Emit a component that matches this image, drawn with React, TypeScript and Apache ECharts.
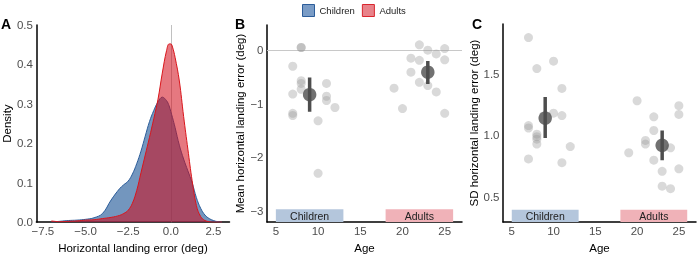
import React, { useEffect, useRef } from "react";
import * as echarts from "echarts";

// ---------- Panel A: density ----------
const densityX = [-7.0, -6.5, -6.0, -5.5, -5.0, -4.5, -4.0, -3.5, -3.0, -2.75, -2.5, -2.25, -2.0, -1.75, -1.5, -1.25, -1.0, -0.75, -0.5, -0.25, -0.1, 0.0, 0.1, 0.25, 0.5, 0.75, 1.0, 1.25, 1.5, 1.75, 2.0, 2.25, 2.5, 2.75, 3.0];
const childrenDensity = [0.0, 0.002, 0.004, 0.005, 0.007, 0.011, 0.022, 0.056, 0.085, 0.095, 0.104, 0.122, 0.148, 0.18, 0.218, 0.255, 0.283, 0.305, 0.317, 0.308, 0.295, 0.28, 0.265, 0.24, 0.195, 0.16, 0.13, 0.1, 0.062, 0.035, 0.018, 0.009, 0.004, 0.001, 0.0];
const adultsDensity = [0.003, 0.001, 0.002, 0.003, 0.005, 0.006, 0.009, 0.012, 0.017, 0.022, 0.03, 0.048, 0.08, 0.125, 0.17, 0.215, 0.262, 0.312, 0.378, 0.435, 0.452, 0.452, 0.444, 0.418, 0.358, 0.268, 0.185, 0.105, 0.042, 0.014, 0.004, 0.001, 0.0, 0.0, 0.0];
const densityXTicks = [-7.5, -5.0, -2.5, 0.0, 2.5];
const densityYTicks = [0.0, 0.1, 0.2, 0.3, 0.4, 0.5];

// ---------- Panel B: mean error ----------
const bChildAges = [8, 8, 7, 8, 8, 8, 7, 7, 7, 11, 11, 11, 12, 10, 10];
const bChildValues = [0.05, 0.05, -0.3, -0.57, -0.62, -0.73, -0.82, -1.18, -1.22, -0.62, -0.86, -0.94, -1.07, -1.32, -2.3];
const bAdultAges = [22, 23, 25, 24, 21, 22, 25, 21, 22, 23, 24, 19, 20, 25];
const bAdultValues = [0.1, 0.0, 0.03, -0.07, -0.15, -0.19, -0.18, -0.41, -0.6, -0.66, -0.78, -0.71, -1.09, -1.18];
const bMeanAges = [9, 23];
const bMeanValues = [-0.83, -0.41];
const bMeanLow = [-1.15, -0.63];
const bMeanHigh = [-0.51, -0.2];
const bYTicks = [-3, -2, -1, 0];

// ---------- Panel C: SD error ----------
const cChildAges = [7, 8, 10, 11, 10, 11, 7, 7, 8, 8, 8, 8, 7, 11, 12];
const cChildValues = [1.79, 1.54, 1.6, 1.38, 1.18, 1.16, 1.08, 1.06, 1.01, 0.99, 0.97, 0.93, 0.81, 0.78, 0.91];
const cAdultAges = [20, 25, 25, 22, 22, 21, 21, 19, 24, 22, 23, 25, 23, 24];
const cAdultValues = [1.28, 1.24, 1.17, 1.15, 1.04, 0.96, 0.93, 0.86, 0.9, 0.8, 0.71, 0.73, 0.59, 0.57];
const cMeanAges = [9, 23];
const cMeanValues = [1.14, 0.92];
const cMeanLow = [0.98, 0.8];
const cMeanHigh = [1.31, 1.04];
const cYTicks = [0.5, 1.0, 1.5];

const ageTicks = [5, 10, 15, 20, 25];
const groupNames = ["Children", "Adults"];
const groupAgeBands = [
  [5, 13],
  [18, 26],
];

const FONT = "Liberation Sans";
const TICK_COLOR = "#4d4d4d";
const POINT_COLOR = "rgba(150,150,150,0.45)";
const MEAN_COLOR = "#4d4d4d";
const BAND_COLORS = ["#b4c6dc", "#f0b2b8"];

const fmt = (d: number) => (v: number) =>
  (v < 0 ? "\u2212" : "") + Math.abs(v).toFixed(d);

function axisBase(extra: any) {
  return {
    type: "value",
    axisLine: { show: true, onZero: false, lineStyle: { color: "#000", width: 1.5 } },
    axisTick: { show: false },
    splitLine: { show: false },
    nameLocation: "middle",
    nameTextStyle: { color: "#000", fontSize: 11.5, fontFamily: FONT },
    ...extra,
    axisLabel: {
      color: TICK_COLOR,
      fontSize: 11.5,
      fontFamily: FONT,
      ...(extra.axisLabel || {}),
    },
  };
}

function pointsPanel(
  idx: number,
  childAges: number[],
  childVals: number[],
  adultAges: number[],
  adultVals: number[],
  meanAges: number[],
  meanVals: number[],
  lo: number[],
  hi: number[],
  yMin: number,
  bandTop: number,
  zeroLine: boolean
) {
  const zip = (a: number[], b: number[]) => a.map((x, i) => [x, b[i]]);
  const series: any[] = [
    {
      type: "scatter",
      xAxisIndex: idx,
      yAxisIndex: idx,
      data: zip(childAges, childVals),
      symbolSize: 9,
      itemStyle: { color: POINT_COLOR },
      silent: true,
      z: 2,
      markArea: {
        silent: true,
        z: 1,
        label: { show: true, position: "inside", color: "#222", fontSize: 10.5, fontFamily: FONT },
        data: groupNames.map((n, i) => [
          { name: n, xAxis: groupAgeBands[i][0], yAxis: yMin, itemStyle: { color: BAND_COLORS[i], opacity: 1 } },
          { xAxis: groupAgeBands[i][1], yAxis: bandTop },
        ]),
      },
      markLine: zeroLine
        ? {
            silent: true,
            z: 1,
            symbol: ["none", "none"],
            label: { show: false },
            lineStyle: { color: "#c8c8c8", width: 1, type: "solid" },
            data: [{ yAxis: 0 }],
          }
        : undefined,
    },
    {
      type: "scatter",
      xAxisIndex: idx,
      yAxisIndex: idx,
      data: zip(adultAges, adultVals),
      symbolSize: 9,
      itemStyle: { color: POINT_COLOR },
      silent: true,
      z: 2,
    },
  ];
  meanAges.forEach((a, i) => {
    series.push({
      type: "line",
      xAxisIndex: idx,
      yAxisIndex: idx,
      data: [
        [a, lo[i]],
        [a, hi[i]],
      ],
      symbol: "none",
      lineStyle: { color: MEAN_COLOR, width: 3.5 },
      silent: true,
      z: 3,
    });
  });
  series.push({
    type: "scatter",
    xAxisIndex: idx,
    yAxisIndex: idx,
    data: zip(meanAges, meanVals),
    symbolSize: 13.5,
    itemStyle: { color: MEAN_COLOR },
    silent: true,
    z: 4,
  });
  return series;
}

export default function App() {
  const ref = useRef<HTMLDivElement>(null);
  useEffect(() => {
    if (!ref.current) return;
    const chart = echarts.init(ref.current, undefined, { renderer: "svg" });
    const bYMin = -3.21;
    const cYMin = 0.3;
    const option: any = {
      animation: false,
      textStyle: { fontFamily: FONT },
      legend: {
        show: true,
        left: 302,
        top: 4,
        padding: 0,
        icon: "rect",
        itemWidth: 12,
        itemHeight: 12,
        itemGap: 7,
        selectedMode: false,
        textStyle: { fontSize: 9.5, color: "#222", fontFamily: FONT },
        data: [
          { name: "Children", itemStyle: { color: "#7a9cc6", borderColor: "#2c5d9a", borderWidth: 1 } },
          { name: "Adults", itemStyle: { color: "#e8838a", borderColor: "#d9262e", borderWidth: 1 } },
        ],
      },
      grid: [
        { left: 36, top: 25, width: 193.5, height: 202.5 },
        { left: 267, top: 25, width: 195, height: 202.5 },
        { left: 503, top: 24, width: 193, height: 203.5 },
      ],
      xAxis: [
        axisBase({
          gridIndex: 0,
          min: -7.88,
          max: 3.44,
          name: "Horizontal landing error (deg)",
          nameGap: 16,
          axisLabel: { customValues: densityXTicks, formatter: fmt(1), margin: 3 },
        }),
        axisBase({
          gridIndex: 1,
          min: 3.95,
          max: 27.05,
          name: "Age",
          nameGap: 15,
          axisLabel: { customValues: ageTicks, formatter: fmt(0), margin: 3 },
        }),
        axisBase({
          gridIndex: 2,
          min: 3.95,
          max: 27.05,
          name: "Age",
          nameGap: 15,
          axisLabel: { customValues: ageTicks, formatter: fmt(0), margin: 3 },
        }),
      ],
      yAxis: [
        axisBase({
          gridIndex: 0,
          min: 0,
          max: 0.5,
          name: "Density",
          nameGap: 21,
          axisLabel: { customValues: densityYTicks, formatter: fmt(1), margin: 3.5 },
        }),
        axisBase({
          gridIndex: 1,
          min: bYMin,
          max: 0.47,
          name: "Mean horizontal landing error (deg)",
          nameGap: 18,
          axisLabel: { customValues: bYTicks, formatter: fmt(0), margin: 3.5 },
        }),
        axisBase({
          gridIndex: 2,
          min: cYMin,
          max: 1.9,
          name: "SD horizontal landing error (deg)",
          nameGap: 22,
          axisLabel: { customValues: cYTicks, formatter: fmt(1), margin: 3.5 },
        }),
      ],
      graphic: [
        { type: "text", left: 1, top: 17, style: { text: "A", font: `bold 14px "${FONT}"`, fill: "#000" } },
        { type: "text", left: 235, top: 17, style: { text: "B", font: `bold 14px "${FONT}"`, fill: "#000" } },
        { type: "text", left: 472, top: 17, style: { text: "C", font: `bold 14px "${FONT}"`, fill: "#000" } },
      ],
      series: [
        {
          name: "Children",
          type: "line",
          xAxisIndex: 0,
          yAxisIndex: 0,
          data: densityX.map((x, i) => [x, childrenDensity[i]]),
          smooth: 0.4,
          symbol: "none",
          lineStyle: { color: "#2c5d9a", width: 1 },
          itemStyle: { color: "#7a9cc6" },
          areaStyle: { color: "rgba(40,93,155,0.65)", opacity: 1 },
          silent: true,
          z: 2,
          markLine: {
            silent: true,
            z: 1,
            symbol: ["none", "none"],
            label: { show: false },
            lineStyle: { color: "#c0c0c0", width: 1, type: "solid" },
            data: [{ xAxis: 0 }],
          },
        },
        {
          name: "Adults",
          type: "line",
          xAxisIndex: 0,
          yAxisIndex: 0,
          data: densityX.map((x, i) => [x, adultsDensity[i]]),
          smooth: 0.4,
          symbol: "none",
          lineStyle: { color: "#d9161c", width: 1 },
          itemStyle: { color: "#e8838a" },
          areaStyle: { color: "rgba(210,10,24,0.55)", opacity: 1 },
          silent: true,
          z: 3,
        },
        ...pointsPanel(1, bChildAges, bChildValues, bAdultAges, bAdultValues, bMeanAges, bMeanValues, bMeanLow, bMeanHigh, bYMin, -2.97, true),
        ...pointsPanel(2, cChildAges, cChildValues, cAdultAges, cAdultValues, cMeanAges, cMeanValues, cMeanLow, cMeanHigh, cYMin, 0.4, false),
      ],
    };
    chart.setOption(option);
    return () => chart.dispose();
  }, []);
  return <div ref={ref} style={{ position: "fixed", left: 0, top: 0, width: 700, height: 259 }} />;
}
